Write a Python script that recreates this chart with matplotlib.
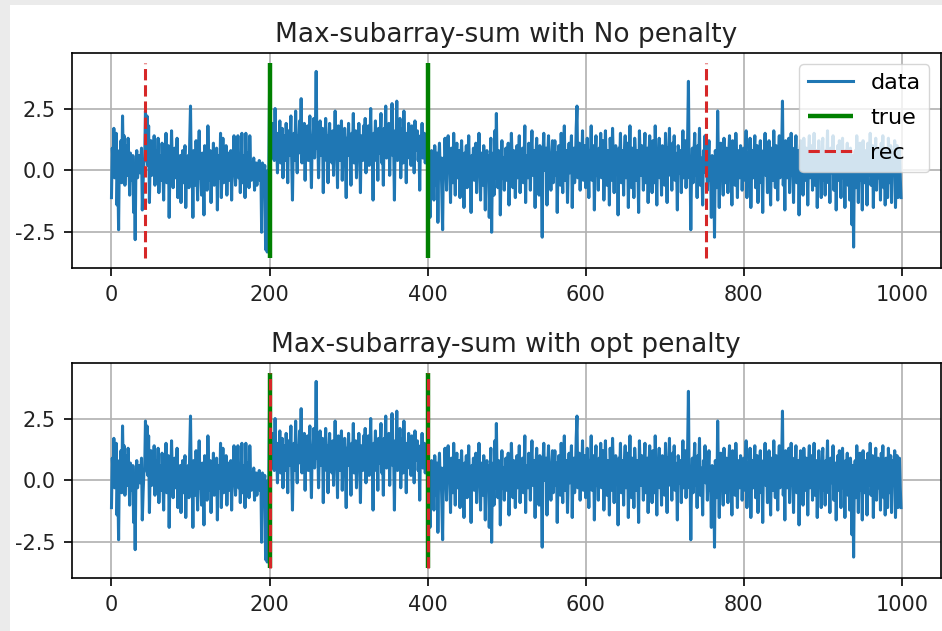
import matplotlib
matplotlib.use("Agg")
import matplotlib.pyplot as plt
from matplotlib.patches import Rectangle

plt.rcParams["axes.unicode_minus"] = False

# ---- data ----
signal = [
    -1.1, 0.9, 0.2, 1.7, -0.3, 0.6, 1.5, -1.4, 0.1, -2.4, 0.8, 0.4, 1.2, -0.5, 2.2, 0.3, 1.4, -0.6, 0.5, 1.0,
    -0.2, 1.3, 0.4, -1.0, 0.7, -0.4, 0.1, 0.6, -1.7, 0.0, -2.8, 0.4, 0.8, -0.3, 0.2, 0.6, -0.1, 0.3, 0.9, -1.6,
    -0.5, 0.3, 0.4, 2.4, 1.0, 2.2, 0.2, 1.8, -1.3, 0.5, 1.2, -0.2, 0.9, 0.1, 1.4, -0.6, 0.4, 0.8, 0.0, 1.3,
    -0.9, 0.6, 0.2, -0.4, 1.1, 0.1, -1.2, 0.7, 0.3, 1.5, -0.5, 0.0, 1.0, -1.9, 0.3, -0.2, 1.6, 0.2, -0.7, 0.4,
    0.9, -0.3, 0.1, 1.3, -1.1, 0.5, -0.1, 0.6, -1.3, 0.2, 0.8, -0.5, 0.1, 1.0, -1.5, 0.3, 0.0, 0.6, -0.7, 1.2,
    2.6, -0.2, 0.4, -1.9, 0.8, 0.2, -0.6, 1.2, 0.0, -1.2, 0.5, 1.6, -0.3, 0.3, -1.0, 0.7, 0.1, -1.8, 1.0, -0.2,
    0.3, -0.8, 1.8, 0.2, -0.4, 0.8, -1.3, 0.4, 0.0, 1.1, -0.6, 0.3, -0.1, 0.9, -1.6, 0.6, 0.1, -0.3, 1.5, -1.1,
    0.2, 1.3, -0.5, 0.4, 0.0, 1.0, -1.0, 0.3, 0.7, -0.4, 0.1, 0.8, -1.2, 0.5, -0.2, 1.4, 0.0, -0.6, 0.3, -0.1,
    1.4, -0.3, 0.4, -0.9, 0.2, 1.5, -0.5, 0.1, 0.6, -1.1, 1.5, 0.0, -0.3, 0.7, -0.7, 1.4, 0.2, -0.4, 0.3, -0.1,
    0.5, -0.8, 0.1, 0.3, -0.6, 0.2, -0.2, 0.4, -0.4, 0.1, -2.5, 0.3, 0.2, -0.1, 0.2, -3.2, -0.3, -3.3, 0.0, -0.1,
    3.2, 0.6, 1.7, 0.5, 1.9, 1.0, 0.4, 2.5, 0.9, 1.3, -0.1, 1.5, 0.9, 2.0, 0.3, 1.1, 1.7, -0.3, 0.8, 1.4,
    0.4, 1.9, 1.0, -0.5, 1.6, 0.6, 1.2, 2.2, 0.5, -1.2, 1.0, 1.5, 0.4, 2.4, 0.9, -0.1, 1.4, 0.7, 2.0, 1.1,
    2.9, 0.3, 1.2, 0.8, 1.9, -0.4, 1.3, 0.7, 1.8, 0.4, 1.1, 2.2, 0.7, -0.7, 1.4, 1.0, 2.1, 0.5, 1.6, 4.0,
    0.9, 1.5, -0.3, 1.2, 2.0, 0.6, 1.0, 1.7, -0.9, 1.3, 0.8, 2.1, 0.4, 1.4, -0.5, 1.1, 1.9, 0.8, 1.2, 0.3,
    1.6, -0.2, 1.0, 2.4, 0.7, 1.2, -0.7, 1.8, 0.9, 0.4, 1.4, 2.0, -0.4, 1.1, 0.8, 1.7, 0.5, -1.1, 1.3, 0.9,
    1.9, 0.6, 1.1, -0.6, 1.5, 0.8, 2.3, 0.3, 1.0, 1.6, -0.3, 1.2, 0.7, 1.9, 0.9, -0.9, 1.4, 1.1, 0.4, 1.8,
    0.8, 2.1, -0.1, 1.3, 0.8, 1.8, 0.2, 1.1, 2.5, 0.5, 1.0, -1.2, 1.5, 0.9, 2.0, 0.4, 1.2, -0.4, 1.7, 0.7,
    1.4, 2.3, 0.3, 1.1, -0.6, 1.7, 0.9, 2.6, 0.5, 1.2, 0.8, 1.9, -0.2, 1.3, 1.0, 2.7, 0.6, 1.1, -1.2, 1.6,
    0.9, 2.8, 0.4, 1.4, 0.7, 2.1, -0.3, 1.1, 1.7, 0.3, 2.4, 0.8, 1.2, -0.5, 1.5, 0.9, 1.9, 0.5, 1.1, 0.2,
    1.8, 0.7, 1.3, -0.1, 2.0, 0.8, 1.0, 1.6, 0.4, 1.2, -0.8, 1.4, 0.7, 1.9, 0.5, 1.0, 1.5, 0.3, 0.8, 1.1,
    0.4, -0.7, 0.6, -1.9, 0.2, 0.8, -0.4, 0.4, -1.2, 1.0, 0.1, -0.6, 0.7, -2.1, 0.3, 1.1, -0.2, 0.5, -0.9, -2.4,
    0.5, -0.2, 1.3, 0.2, -0.8, 0.7, 1.4, 0.0, 0.4, -1.3, 0.9, 0.3, -0.5, 1.5, 0.1, -1.0, 0.6, 1.1, -0.3, 0.3,
    0.8, -1.1, 0.4, 1.2, 0.0, 0.2, -1.5, 0.7, 0.2, 1.0, -0.7, 0.4, 1.4, -0.2, 0.1, -1.7, 0.6, 0.2, 0.9, -0.4,
    0.3, 1.1, -0.9, 0.5, -0.1, 1.5, 0.1, -1.2, 0.7, 0.4, -0.6, 1.0, 0.2, -1.6, 0.5, 0.8, -0.2, 0.6, -1.9, 0.2,
    1.3, -2.5, 0.3, 0.7, -1.0, 1.6, -0.3, 2.3, 0.1, -0.7, 0.8, 0.5, -1.8, 0.2, 1.2, -0.3, 0.5, -0.8, 0.2, 0.9,
    -0.4, 0.6, 1.1, -1.4, 0.3, -0.1, 1.5, 0.4, -0.7, 0.8, 0.2, -1.1, 0.5, 1.0, -0.3, 0.2, 1.4, -0.9, 0.5, 0.0,
    0.9, -0.5, 0.3, 1.8, -1.3, 0.6, 0.1, -0.3, 1.1, 0.4, -0.8, 0.7, 1.6, -0.2, 0.2, 0.8, -1.5, 0.5, 1.3, -0.1,
    0.3, -1.0, 1.0, 0.6, -0.4, -2.7, 0.7, 1.5, 0.0, 0.3, 0.9, -1.4, 0.5, 1.4, -0.3, 0.2, -0.8, 0.6, 1.2, -0.5,
    0.4, 1.2, -0.2, 0.7, -1.7, 0.2, 1.0, 0.5, -0.6, 1.5, 0.0, -0.9, 0.6, 1.8, -0.4, 0.3, 0.8, -1.3, 0.3, 1.1,
    -0.1, 0.6, 1.4, -1.5, 0.4, 0.9, -0.5, 0.2, 1.7, 2.6, -0.3, 0.5, 1.1, -0.8, 0.7, 0.1, 1.6, -0.4, 0.3, 1.0,
    -0.7, 0.5, 1.3, 0.1, -1.1, 0.8, 0.4, 1.8, -0.4, 0.2, 1.0, -1.6, 0.6, 1.4, -0.2, 0.5, -0.8, 0.9, 0.2, 1.5,
    -0.3, 0.7, 1.2, -1.2, 0.3, 1.6, 0.1, -0.6, 0.8, 0.5, -1.4, 1.3, 0.3, -0.4, 1.7, 0.4, -0.9, 0.6, 1.0, -0.1,
    0.5, -1.8, 0.9, 0.3, 1.5, -0.5, 0.2, 0.8, -1.0, 0.7, 1.4, -0.3, 0.2, 1.1, -1.5, 0.5, 1.8, 0.1, -0.7, 0.9,
    0.4, -1.1, 1.3, 0.6, -0.4, 0.8, 0.2, -1.7, 1.6, 0.5, -0.2, 1.0, 0.3, -0.8, 0.7, 1.5, -0.5, 0.2, 0.9, -1.3,
    0.6, 1.4, -0.1, 0.4, -0.9, 1.2, 0.6, -0.5, 1.8, 0.1, -1.4, 0.8, 0.3, 1.3, -0.3, 0.5, -1.0, 1.0, 0.2, 0.7,
    -0.6, 1.5, 0.2, -1.3, 0.9, 0.4, 1.7, -0.2, 0.6, -0.8, 1.1, 0.1, 1.4, -0.4, 0.7, 0.2, -1.6, 1.0, 0.5, -0.1,
    0.8, -0.9, 0.3, 1.6, -0.3, 0.6, 1.2, -0.7, 0.2, 1.3, 3.6, -0.3, 0.4, -2.4, 0.1, 0.9, -0.5, 0.7, 1.5, -0.2,
    0.5, -1.1, 1.0, 0.3, 1.7, -0.6, 0.5, 0.2, -1.4, 0.8, 0.3, 1.4, -0.1, 0.7, -0.8, 0.4, 1.2, -0.4, 0.1, -1.9,
    0.6, -1.2, 0.2, -2.7, 0.8, 0.4, -0.7, 2.4, 0.2, -1.5, 0.5, 1.1, -0.3, 0.3, -1.0, 1.3, 0.1, -0.5, 0.9, 0.5,
    -0.9, 0.7, 1.4, -0.2, 0.3, -1.4, 1.2, 0.2, 0.6, -0.6, 1.5, 0.4, -1.1, 0.8, 0.3, -0.3, 1.0, 0.6, -0.8, 0.3,
    0.9, -0.4, 0.5, 1.6, -1.1, 0.2, 0.7, -0.1, 1.3, -1.5, 0.4, 0.8, -0.3, 0.6, 1.4, -0.7, 0.2, 1.0, -1.3, 0.5,
    0.3, 1.2, -0.5, 0.1, -1.7, 0.8, 0.5, 1.5, -0.2, 0.7, -0.9, 0.4, 1.2, 0.0, -1.4, 0.9, 0.3, -0.4, 1.6, 0.2,
    -0.7, 1.0, 0.4, -1.2, 0.6, 1.4, -0.3, 0.2, 0.8, 2.8, -0.6, 0.5, -1.6, 1.2, 0.2, -0.3, 0.7, 1.3, -0.9, 0.3,
    1.5, -0.2, 0.6, -1.3, 0.9, 0.3, 1.4, -0.5, 0.2, 0.8, -1.8, 0.5, 1.2, -0.1, 0.6, -1.0, 1.3, 0.3, -0.4, 0.9,
    0.4, -1.4, 0.7, 1.4, -0.3, 0.2, 1.0, -0.8, 0.5, 1.5, -0.6, 0.3, 0.8, -1.5, 0.3, 1.2, -0.2, 0.5, -1.1, 0.7,
    1.3, -0.4, 0.2, -1.0, 0.8, 0.5, 1.6, -0.5, 0.3, -1.3, 0.9, 0.7, -0.1, 1.4, -0.8, 0.3, 0.7, -1.6, 0.4, 1.0,
    -0.4, 1.2, 0.1, -1.1, 0.6, 1.3, -0.3, 0.4, -1.5, 0.8, 0.3, 1.1, -0.6, 0.5, -1.2, 0.9, 0.2, -2.2, 0.6, -3.1,
    0.3, 0.8, -0.7, 1.4, 0.2, -1.3, 0.6, 1.1, -0.4, 0.5, -1.6, 1.2, 0.1, -0.5, 0.8, 0.4, -1.4, 1.1, 0.3, -0.2,
    1.5, -0.6, 0.3, 1.0, -1.5, 0.6, 0.2, 1.3, -0.8, 0.4, 0.9, -0.3, 0.7, -1.2, 1.1, 0.1, 1.4, -0.7, 0.5, -1.4,
    0.9, 0.3, -1.1, 1.3, 0.5, -0.5, 1.0, -1.3, 0.3, 0.8, -0.2, 1.2, -1.5, 0.2, 1.0, -1.1, 0.6, 0.9, -0.3, -1.1,
]
true_bkps = [200, 400]
rec_no_penalty = [42, 752]
rec_opt_penalty = [200, 400]
vline_low, vline_high = -3.55, 4.35
titles = ["Max-subarray-sum with No penalty", "Max-subarray-sum with opt penalty"]

# ---- figure ----
W, H = 942, 631
fig = plt.figure(figsize=(W / 100, H / 100), dpi=100)
fig.patch.set_facecolor("#ebebeb")
fig.add_artist(Rectangle((10 / W, 0), 1 - 10 / W, 1 - 5 / H,
                         transform=fig.transFigure, facecolor="white",
                         edgecolor="none", zorder=-10))

ax_left = 72 / W
ax_w = 868.5 / W
ax_h = 215 / H
axes = [fig.add_axes([ax_left, (H - 268) / H, ax_w, ax_h]),
        fig.add_axes([ax_left, (H - 578) / H, ax_w, ax_h])]

xs = list(range(len(signal)))
for i, (ax, rec) in enumerate(zip(axes, [rec_no_penalty, rec_opt_penalty])):
    ax.plot(xs, signal, color="#1f77b4", lw=2.2, label="data")
    ax.vlines(true_bkps, vline_low, vline_high, colors="green", lw=3.2, label="true")
    ax.vlines(rec, vline_low, vline_high, colors="#d62728", lw=2.2,
              linestyles="--", label="rec")
    ax.set_title(titles[i], fontsize=19, pad=8, color="#222222")
    ax.grid(True, color="#b0b0b0", lw=1.2)
    ax.set_xticks([0, 200, 400, 600, 800, 1000])
    ax.set_yticks([-2.5, 0.0, 2.5])
    ax.tick_params(labelsize=15, width=1.2, length=6, pad=6, labelcolor="#222222")
    for s in ax.spines.values():
        s.set_linewidth(1.2)
    if i == 0:
        ax.legend(loc="upper right", fontsize=16, handlelength=2.0,
                  labelspacing=0.68)

fig.savefig("out.png", dpi=100)
